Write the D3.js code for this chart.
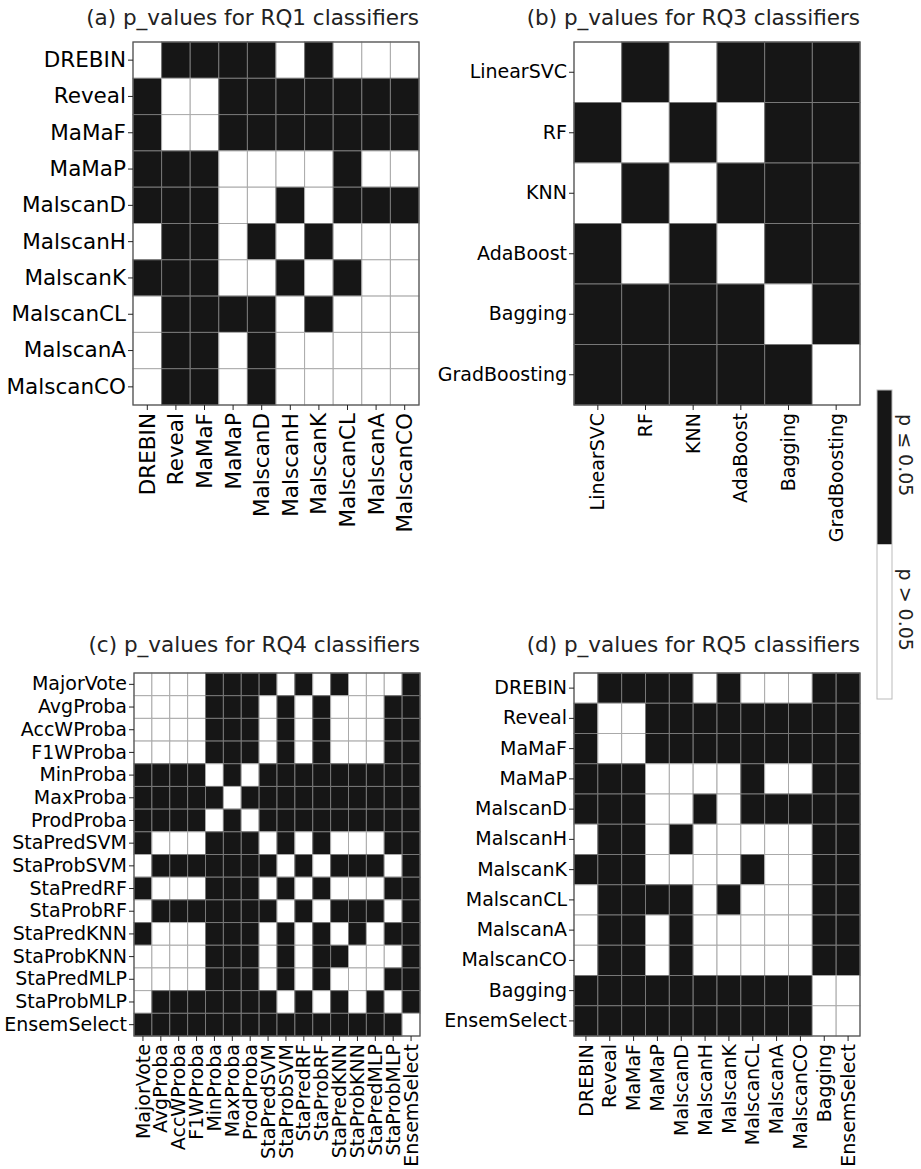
<!DOCTYPE html>
<html lang="en">
<head>
<meta charset="UTF-8">
<title>p_values heatmaps</title>
<script src="https://cdn.jsdelivr.net/npm/d3@7"></script>
<style>
  body { margin: 0; background: #fff; }
  svg { font-family: "DejaVu Sans", sans-serif; }
</style>
</head>
<body>
<svg width="921" height="1169"></svg>
<script>
// 1 = p <= 0.05 (black), 0 = p > 0.05 (white)
const rq1Labels = ["DREBIN", "Reveal", "MaMaF", "MaMaP", "MalscanD", "MalscanH", "MalscanK", "MalscanCL", "MalscanA", "MalscanCO"];
const rq1Sig = [
  [0,1,1,1,1,0,1,0,0,0],
  [1,0,0,1,1,1,1,1,1,1],
  [1,0,0,1,1,1,1,1,1,1],
  [1,1,1,0,0,0,0,1,0,0],
  [1,1,1,0,0,1,0,1,1,1],
  [0,1,1,0,1,0,1,0,0,0],
  [1,1,1,0,0,1,0,1,0,0],
  [0,1,1,1,1,0,1,0,0,0],
  [0,1,1,0,1,0,0,0,0,0],
  [0,1,1,0,1,0,0,0,0,0]
];

const rq3Labels = ["LinearSVC", "RF", "KNN", "AdaBoost", "Bagging", "GradBoosting"];
const rq3Sig = [
  [0,1,0,1,1,1],
  [1,0,1,0,1,1],
  [0,1,0,1,1,1],
  [1,0,1,0,1,1],
  [1,1,1,1,0,1],
  [1,1,1,1,1,0]
];

const rq4Labels = ["MajorVote", "AvgProba", "AccWProba", "F1WProba", "MinProba", "MaxProba", "ProdProba",
  "StaPredSVM", "StaProbSVM", "StaPredRF", "StaProbRF", "StaPredKNN", "StaProbKNN", "StaPredMLP", "StaProbMLP", "EnsemSelect"];
const rq4Sig = [
  [0,0,0,0,1,1,1,1,0,1,0,1,0,0,0,1],
  [0,0,0,0,1,1,1,0,1,0,1,0,0,0,1,1],
  [0,0,0,0,1,1,1,0,1,0,1,0,0,0,1,1],
  [0,0,0,0,1,1,1,0,1,0,1,0,0,0,1,1],
  [1,1,1,1,0,1,0,1,1,1,1,1,1,1,1,1],
  [1,1,1,1,1,0,1,1,1,1,1,1,1,1,1,1],
  [1,1,1,1,0,1,0,1,1,1,1,1,1,1,1,1],
  [1,0,0,0,1,1,1,0,1,0,1,0,0,0,1,1],
  [0,1,1,1,1,1,1,1,0,1,0,1,1,1,0,1],
  [1,0,0,0,1,1,1,0,1,0,1,0,0,0,1,1],
  [0,1,1,1,1,1,1,1,0,1,0,1,1,1,0,1],
  [1,0,0,0,1,1,1,0,1,0,1,0,1,0,1,1],
  [0,0,0,0,1,1,1,0,1,0,1,1,0,0,0,1],
  [0,0,0,0,1,1,1,0,1,0,1,0,0,0,1,1],
  [0,1,1,1,1,1,1,1,0,1,0,1,0,1,0,1],
  [1,1,1,1,1,1,1,1,1,1,1,1,1,1,1,0]
];

const rq5Labels = ["DREBIN", "Reveal", "MaMaF", "MaMaP", "MalscanD", "MalscanH", "MalscanK", "MalscanCL", "MalscanA", "MalscanCO", "Bagging", "EnsemSelect"];
const rq5Sig = [
  [0,1,1,1,1,0,1,0,0,0,1,1],
  [1,0,0,1,1,1,1,1,1,1,1,1],
  [1,0,0,1,1,1,1,1,1,1,1,1],
  [1,1,1,0,0,0,0,1,0,0,1,1],
  [1,1,1,0,0,1,0,1,1,1,1,1],
  [0,1,1,0,1,0,0,0,0,0,1,1],
  [1,1,1,0,0,0,0,1,0,0,1,1],
  [0,1,1,1,1,0,1,0,0,0,1,1],
  [0,1,1,0,1,0,0,0,0,0,1,1],
  [0,1,1,0,1,0,0,0,0,0,1,1],
  [1,1,1,1,1,1,1,1,1,1,0,0],
  [1,1,1,1,1,1,1,1,1,1,0,0]
];

const legendLabels = ["p ≤ 0.05", "p > 0.05"];

const BLACK = "#161616";
const svg = d3.select("svg");

function drawPanel(title, labels, sig, x0, y0, fontSize, titleGap) {
  const w = 286, h = 363;
  const g = svg.append("g").attr("transform", `translate(${x0},${y0})`);
  const x = d3.scaleBand().domain(labels).range([0, w]);
  const y = d3.scaleBand().domain(labels).range([0, h]);

  // cells
  const cells = [];
  sig.forEach((row, i) => row.forEach((v, j) => cells.push({ r: labels[i], c: labels[j], v })));
  g.selectAll("rect.cell")
    .data(cells)
    .enter().append("rect")
    .attr("class", "cell")
    .attr("x", d => x(d.c))
    .attr("y", d => y(d.r))
    .attr("width", x.bandwidth())
    .attr("height", y.bandwidth())
    .attr("fill", d => d.v ? BLACK : "#fff")
    .attr("stroke", d => d.v ? "#777" : "#aaa")
    .attr("stroke-width", 1);

  // frame
  g.append("rect")
    .attr("width", w).attr("height", h)
    .attr("fill", "none").attr("stroke", "#555").attr("stroke-width", 1.2);

  // axes
  const yAxis = g.append("g").call(d3.axisLeft(y).tickSize(5).tickPadding(2));
  yAxis.select(".domain").remove();
  yAxis.selectAll("text").attr("font-size", fontSize).attr("fill", "#000").attr("font-family", "DejaVu Sans");
  yAxis.selectAll("line").attr("stroke", "#222");

  const xAxis = g.append("g").attr("transform", `translate(0,${h})`)
    .call(d3.axisBottom(x).tickSize(5).tickPadding(2));
  xAxis.select(".domain").remove();
  xAxis.selectAll("line").attr("stroke", "#222");
  xAxis.selectAll("text")
    .attr("font-size", fontSize).attr("fill", "#000").attr("font-family", "DejaVu Sans")
    .attr("transform", "rotate(-90)")
    .attr("text-anchor", "end")
    .attr("x", -8).attr("y", 0).attr("dy", "0.35em");

  // title
  g.append("text")
    .attr("x", w).attr("y", -titleGap)
    .attr("text-anchor", "end")
    .attr("font-size", 21.5)
    .attr("fill", "#222")
    .text(title);
}

drawPanel("(a) p_values for RQ1 classifiers", rq1Labels, rq1Sig, 133, 42, 21.5, 17);
drawPanel("(b) p_values for RQ3 classifiers", rq3Labels, rq3Sig, 574, 42, 19, 17);
drawPanel("(c) p_values for RQ4 classifiers", rq4Labels, rq4Sig, 134, 673, 19, 21);
drawPanel("(d) p_values for RQ5 classifiers", rq5Labels, rq5Sig, 574, 673, 19, 21);

// colour bar legend
const cb = svg.append("g").attr("transform", "translate(877,390)");
const cbY = d3.scaleBand().domain(legendLabels).range([0, 309]);
cb.selectAll("rect.seg")
  .data(legendLabels)
  .enter().append("rect")
  .attr("class", "seg")
  .attr("x", 0).attr("y", d => cbY(d))
  .attr("width", 15).attr("height", cbY.bandwidth())
  .attr("fill", (d, i) => i === 0 ? BLACK : "#fff");
cb.append("rect")
  .attr("width", 15).attr("height", 309)
  .attr("fill", "none").attr("stroke", "#bbb").attr("stroke-width", 1);
cb.selectAll("text")
  .data(legendLabels)
  .enter().append("text")
  .attr("transform", d => `translate(29,${cbY(d) + cbY.bandwidth() / 2 - 12}) rotate(90)`)
  .attr("text-anchor", "middle")
  .attr("dy", "0.35em")
  .attr("font-size", 19)
  .attr("fill", "#222")
  .text(d => d);
</script>
</body>
</html>
